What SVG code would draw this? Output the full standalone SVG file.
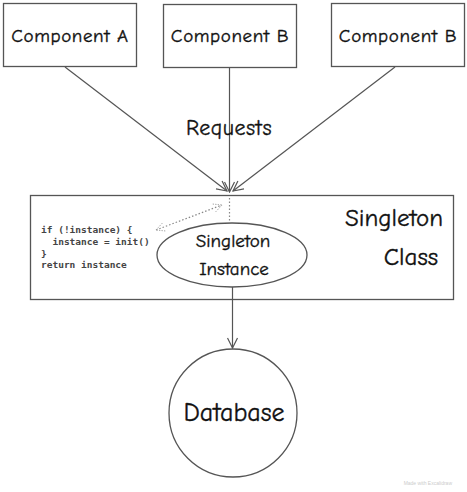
<svg xmlns="http://www.w3.org/2000/svg" width="467" height="492" viewBox="0 0 467 492">
  <defs>
    <marker id="arr" viewBox="0 0 12 12" refX="11" refY="6" markerWidth="12" markerHeight="12" markerUnits="userSpaceOnUse" orient="auto-start-reverse">
      <path d="M1,1 L11,6 L1,11" fill="none" stroke="#555" stroke-width="1.2"/>
    </marker>
    <marker id="arrd" viewBox="0 0 12 12" refX="11" refY="6" markerWidth="10" markerHeight="10" markerUnits="userSpaceOnUse" orient="auto-start-reverse">
      <path d="M1,1 L11,6 L1,11" fill="none" stroke="#999" stroke-width="1" stroke-dasharray="1.5 1.5"/>
    </marker>
  </defs>
  <style>
    .box { fill: #fff; stroke: #555; stroke-width: 1.3; }
    .lbl { font-family: "Comic Neue", "Open Sans", "DejaVu Sans", sans-serif; fill: #111; stroke: #111; stroke-width: 0.35; text-anchor: middle; }
    .code { font-family: "DejaVu Sans Mono", "Liberation Mono", monospace; font-size: 9.5px; font-weight: bold; fill: #444; }
    .edge { fill: none; stroke: #555; stroke-width: 1.2; }
    .dot { fill: none; stroke: #888; stroke-width: 1.2; stroke-dasharray: 1.5 2; }
  </style>
  <rect width="467" height="492" fill="#fff"/>

  <g id="component-a">
    <rect class="box" x="3.5" y="3.5" width="133" height="63"/>
    <text class="lbl" x="70" y="42" font-size="19" letter-spacing="0.6">Component A</text>
  </g>
  <g id="component-b1">
    <rect class="box" x="163.5" y="4.5" width="133" height="63"/>
    <text class="lbl" x="230" y="42" font-size="19" letter-spacing="0.6">Component B</text>
  </g>
  <g id="component-b2">
    <rect class="box" x="331.5" y="3.5" width="133" height="63"/>
    <text class="lbl" x="398" y="42" font-size="19" letter-spacing="0.6">Component B</text>
  </g>

  <g id="singleton-class">
    <rect class="box" x="30.5" y="195.5" width="423" height="104"/>
    <text class="lbl" x="394" y="226" font-size="25">Singleton</text>
    <text class="lbl" x="411" y="265" font-size="25">Class</text>
    <text class="code" x="41" y="233">if (!instance) {</text>
    <text class="code" x="41" y="245" xml:space="preserve">  instance = init()</text>
    <text class="code" x="41" y="257">}</text>
    <text class="code" x="41" y="268">return instance</text>
  </g>

  <g id="singleton-instance">
    <ellipse class="box" cx="232" cy="255" rx="75" ry="32"/>
    <text class="lbl" x="233" y="247" font-size="19">Singleton</text>
    <text class="lbl" x="234" y="275" font-size="19">Instance</text>
  </g>

  <g id="database">
    <circle class="box" cx="233" cy="413" r="64"/>
    <text class="lbl" x="234" y="421" font-size="26">Database</text>
  </g>

  <g id="connectors">
    <line class="edge" x1="65" y1="67" x2="227" y2="191" marker-end="url(#arr)"/>
    <line class="edge" x1="229.5" y1="68" x2="229.5" y2="192" marker-end="url(#arr)"/>
    <line class="edge" x1="395" y1="67" x2="233" y2="191" marker-end="url(#arr)"/>
    <line class="dot" x1="229.5" y1="198" x2="229.5" y2="222"/>
    <line class="dot" x1="156" y1="230" x2="222" y2="205" marker-start="url(#arrd)" marker-end="url(#arrd)"/>
    <line class="edge" x1="232.5" y1="287" x2="232.5" y2="348" marker-end="url(#arr)"/>
    <text class="lbl" x="229" y="135" font-size="22" letter-spacing="0.5">Requests</text>
  </g>
  <text x="452" y="485" font-family="Liberation Sans, sans-serif" font-size="5" fill="#ccc" text-anchor="end">Made with Excalidraw</text>
</svg>
